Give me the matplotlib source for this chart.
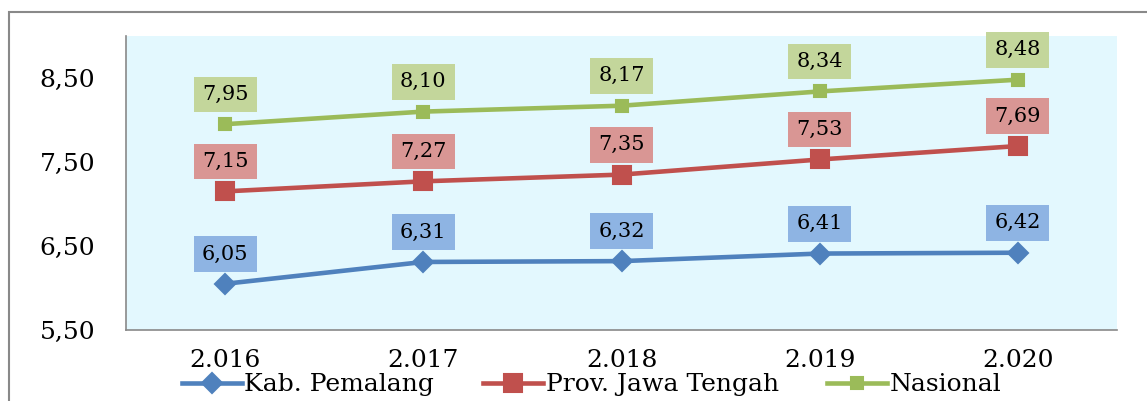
import matplotlib
matplotlib.use('Agg')
import matplotlib.pyplot as plt
from matplotlib.patches import Rectangle

years = ['2.016', '2.017', '2.018', '2.019', '2.020']
pemalang = [6.05, 6.31, 6.32, 6.41, 6.42]
jateng = [7.15, 7.27, 7.35, 7.53, 7.69]
nasional = [7.95, 8.10, 8.17, 8.34, 8.48]
yticks = [5.5, 6.5, 7.5, 8.5]

series = [
    ('Kab. Pemalang', pemalang, '#4F81BD', '#8EB4E3', 'D', 10.5),
    ('Prov. Jawa Tengah', jateng, '#C0504D', '#D99694', 's', 13.5),
    ('Nasional', nasional, '#9BBB59', '#C3D69B', 's', 9),
]

plt.rcParams['font.family'] = 'DejaVu Serif'

fig = plt.figure(figsize=(11.47, 4.01), dpi=100)
fig.patches.append(Rectangle((9 / 1147, -0.1), 1.2, 1 - 12 / 401 + 0.1,
                             transform=fig.transFigure, fill=False,
                             edgecolor='#898989', linewidth=1.5))
ax = fig.add_axes([126 / 1147, 1 - 330 / 401, (1117 - 126) / 1147, (330 - 36) / 401])
ax.set_facecolor('#E3F8FE')

x = list(range(len(years)))
for name, vals, col, boxcol, mk, ms in series:
    ax.plot(x, vals, color=col, linewidth=3.3, marker=mk, markersize=ms,
            markerfacecolor=col, markeredgecolor=col, markeredgewidth=1.5,
            label=name, solid_joinstyle='round')
    for xi, v in zip(x, vals):
        ax.annotate(f'{v:.2f}'.replace('.', ','), (xi, v), xytext=(0, 21.5),
                    textcoords='offset points', ha='center', va='center',
                    fontsize=15, color='black',
                    bbox=dict(boxstyle='square,pad=0.4', facecolor=boxcol,
                              edgecolor='none'))

ax.set_xlim(-0.5, 4.5)
ax.set_ylim(5.5, 9.0)
ax.set_xticks(x)
ax.set_xticklabels(years, fontsize=18)
ax.set_yticks(yticks)
ax.set_yticklabels([f'{t:.2f}'.replace('.', ',') for t in yticks], fontsize=18)
ax.tick_params(length=0, pad=22)
ax.tick_params(axis='x', pad=13.5)
for s in ['top', 'right']:
    ax.spines[s].set_visible(False)
for s in ['left', 'bottom']:
    ax.spines[s].set_color('#898989')
    ax.spines[s].set_linewidth(1.2)

fig.legend(loc='center', bbox_to_anchor=(0.516, 0.04), ncol=3, frameon=False,
           fontsize=18, handlelength=2.4, handletextpad=0.1, columnspacing=1.95,
           borderpad=0)

fig.savefig('out.png', dpi=100)
